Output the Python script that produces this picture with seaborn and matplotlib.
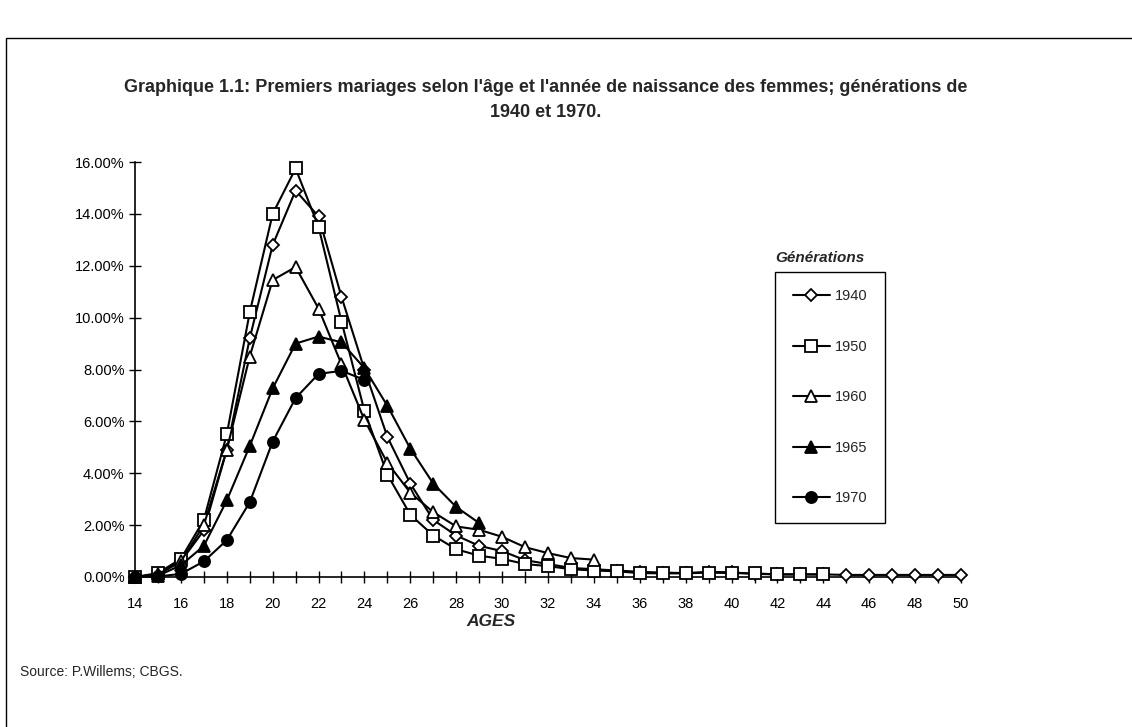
import matplotlib
matplotlib.use("Agg")
import matplotlib.pyplot as plt
from matplotlib import font_manager
from matplotlib.patches import Rectangle
from matplotlib.ticker import FuncFormatter, FixedLocator
import seaborn as sns
import pandas as pd
import numpy as np

# ---------------- data (percent) ----------------
ages_1940 = list(range(14, 51))
v_1940 = [0.0, 0.1, 0.6, 1.8, 4.9, 9.2, 12.8, 14.9, 13.9, 10.8, 8.0, 5.4, 3.6, 2.2,
          1.6, 1.2, 1.0, 0.65, 0.5, 0.35, 0.3, 0.25, 0.2, 0.17, 0.15, 0.2, 0.18,
          0.12, 0.1, 0.1, 0.1, 0.08, 0.08, 0.08, 0.08, 0.08, 0.08]
ages_1950 = list(range(14, 45))
v_1950 = [0.0, 0.15, 0.7, 2.2, 5.5, 10.2, 14.0, 15.75, 13.5, 9.85, 6.4, 3.95, 2.4,
          1.6, 1.07, 0.82, 0.7, 0.5, 0.42, 0.3, 0.25, 0.22, 0.15, 0.14, 0.14,
          0.17, 0.15, 0.14, 0.1, 0.1, 0.1]
ages_1960 = list(range(14, 35))
v_1960 = [0.0, 0.1, 0.6, 2.0, 4.9, 8.5, 11.45, 11.95, 10.35, 8.2, 6.05, 4.4, 3.25,
          2.5, 1.95, 1.82, 1.55, 1.15, 0.92, 0.73, 0.67]
ages_1965 = list(range(14, 30))
v_1965 = [0.0, 0.05, 0.45, 1.2, 2.95, 5.05, 7.27, 9.0, 9.27, 9.05, 8.05, 6.6,
          4.95, 3.6, 2.7, 2.08]
ages_1970 = list(range(14, 25))
v_1970 = [0.0, 0.02, 0.12, 0.6, 1.42, 2.88, 5.22, 6.9, 7.83, 7.95, 7.6]

generations = ["1940", "1950", "1960", "1965", "1970"]
x_ticks = list(range(14, 51, 2))
y_ticks = [0, 2, 4, 6, 8, 10, 12, 14, 16]

title_text = ("Graphique 1.1: Premiers mariages selon l'âge et l'année de naissance des femmes; générations de\n"
              "1940 et 1970.")
x_label = "AGES"
legend_title = "Générations"
source_text = "Source: P.Willems; CBGS."

# ---------------- style ----------------
sns.set_theme(style="white")
available = {f.name for f in font_manager.fontManager.ttflist}
narrow = "Liberation Sans Narrow" if "Liberation Sans Narrow" in available else "Liberation Sans"
plt.rcParams["font.family"] = [narrow, "DejaVu Sans"]

frames = []
for g, a, v in zip(generations,
                   [ages_1940, ages_1950, ages_1960, ages_1965, ages_1970],
                   [v_1940, v_1950, v_1960, v_1965, v_1970]):
    frames.append(pd.DataFrame({"age": a, "value": np.array(v) / 100.0, "gen": g}))
df = pd.concat(frames, ignore_index=True)

marker_style = {
    "1940": dict(marker="D", markersize=6.5, markerfacecolor="white"),
    "1950": dict(marker="s", markersize=9, markerfacecolor="white"),
    "1960": dict(marker="^", markersize=8.5, markerfacecolor="white"),
    "1965": dict(marker="^", markersize=8.5, markerfacecolor="black"),
    "1970": dict(marker="o", markersize=8, markerfacecolor="black"),
}

W, H = 1132, 727
fig = plt.figure(figsize=(W / 100, H / 100), dpi=100)
ax = fig.add_axes([135 / W, 1 - 577 / H, (961 - 135) / W, (577 - 162) / H])

for g in generations:
    sub = df[df["gen"] == g]
    st = marker_style[g]
    sns.lineplot(data=sub, x="age", y="value", ax=ax, color="black", linewidth=1.5,
                 marker=st["marker"], markersize=st["markersize"],
                 markerfacecolor=st["markerfacecolor"], markeredgecolor="black",
                 markeredgewidth=1.3, label=g, clip_on=False, zorder=3)

ax.set_xlim(14, 50)
ax.set_ylim(0, 0.16)
ax.set_xticks(list(range(14, 51)))
ax.set_xticklabels([str(t) if t in x_ticks else "" for t in range(14, 51)])
ax.yaxis.set_major_locator(FixedLocator([t / 100 for t in y_ticks]))
ax.yaxis.set_major_formatter(FuncFormatter(lambda v, p: f"{v * 100:.2f}%"))
ax.set_xlabel("")
ax.set_ylabel("")

for s in ["top", "right"]:
    ax.spines[s].set_visible(False)
for s in ["left", "bottom"]:
    ax.spines[s].set_color("black")
    ax.spines[s].set_linewidth(1.2)

ax.tick_params(axis="both", which="major", direction="inout", length=9, width=1,
               color="black", labelsize=10.5, labelcolor="black",
               left=True, bottom=True)
ax.tick_params(axis="x", pad=10)
ax.tick_params(axis="y", pad=3)
ax.grid(False)

# legend
leg = ax.legend(loc="upper left", bbox_to_anchor=(775 / W, 1 - 272 / H),
                bbox_transform=fig.transFigure, frameon=True, fancybox=False,
                edgecolor="black", framealpha=1, fontsize=10.5,
                handlelength=2.6, handletextpad=0.3, labelspacing=2.5,
                borderpad=1.2, borderaxespad=0)
leg.get_frame().set_linewidth(1.0)
fig.text(820 / W, 1 - 258 / H, legend_title, ha="center", va="center",
         fontsize=11, fontweight="bold", style="italic")

# title, axis label, source
fig.text(546 / W, 1 - 100 / H, title_text, ha="center", va="center",
         fontsize=13, fontweight="bold", linespacing=1.55)
fig.text(491 / W, 1 - 621 / H, x_label, ha="center", va="center",
         fontsize=12.5, fontweight="bold", style="italic")
fig.text(20 / W, 1 - 672 / H, source_text, ha="left", va="center", fontsize=10)

# outer frame
fig.patches.append(Rectangle((6 / W, -0.05), 1.2, 0.05 + 1 - 38 / H,
                             transform=fig.transFigure, fill=False,
                             edgecolor="black", linewidth=1.0))

fig.savefig("out.png", dpi=100)
